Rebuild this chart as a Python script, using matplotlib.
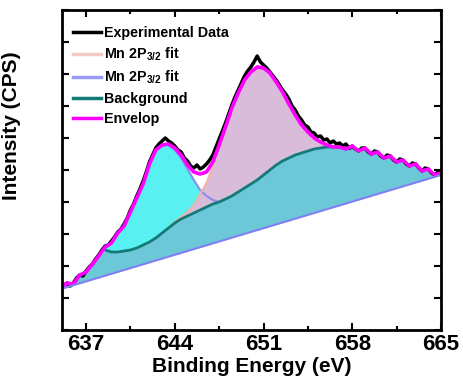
import numpy as np
import matplotlib
matplotlib.use("Agg")
import matplotlib.pyplot as plt
from matplotlib.ticker import MultipleLocator
from matplotlib.lines import Line2D

plt.rcParams['font.family'] = ['Liberation Sans', 'DejaVu Sans']
plt.rcParams['font.weight'] = 'bold'
plt.rcParams['mathtext.fontset'] = 'custom'
plt.rcParams['mathtext.bf'] = 'Liberation Sans:bold'
plt.rcParams['mathtext.rm'] = 'Liberation Sans:bold'
plt.rcParams['mathtext.default'] = 'bf'

# measured spectrum, 0.25 eV steps from 635 to 665 eV
exp_counts = [42, 45, 47, 44, 47, 52, 55, 54, 59, 63, 66, 71, 75, 80, 84, 85,
              89, 93, 98, 101, 106, 112, 120, 126, 134, 141, 149, 158, 168, 175,
              182, 186, 189, 192, 189, 187, 184, 180, 178, 172, 169, 164, 162, 165,
              161, 163, 166, 170, 175, 183, 191, 199, 207, 216, 225, 233, 240, 247,
              254, 259, 263, 268, 274, 268, 265, 262, 258, 254, 250, 245, 240, 236,
              231, 224, 220, 214, 210, 205, 203, 198, 197, 193, 194, 190, 191, 187,
              189, 186, 187, 184, 186, 182, 184, 181, 179, 182, 182, 178, 176, 179,
              178, 174, 172, 175, 174, 170, 168, 171, 170, 166, 164, 167, 166, 162,
              159, 162, 161, 157, 155, 158, 157]
exp_energy = np.linspace(635, 665, len(exp_counts))

# fitted curves, 0.5 eV steps from 635 to 665 eV
fit_energy = np.arange(635.0, 665.01, 0.5)
envelope = [42, 47, 46, 55, 58, 66, 74, 83, 87, 97, 104, 118, 132, 146, 166, 180,
            185, 186, 182, 175, 165, 158, 156, 158, 168, 185, 203, 222, 237, 250,
            258, 263, 262, 257, 248, 238, 226, 215, 205, 198, 192, 188, 185, 183,
            183, 181, 184, 179, 182, 176, 178, 172, 174, 168, 170, 164, 166, 159,
            161, 155, 157]
background = [42, 47, 46, 55, 58, 66, 74, 80, 78, 78, 79, 80, 82, 85, 88, 92,
              97, 102, 107, 111, 114, 117, 120, 123, 126, 128, 131, 134, 138, 142,
              146, 150, 155, 160, 165, 169, 172, 175, 177, 179, 181, 182, 183, 183,
              183, 181, 182, 179, 182, 176, 178, 172, 174, 168, 170, 164, 166, 159,
              161, 155, 157]

# Mn 2p3/2 component at lower energy (638.5 - 648 eV)
peak1_energy = np.arange(638.5, 648.01, 0.5)
peak1 = [82, 87, 97, 104, 118, 132, 146, 166, 180, 185, 185, 180, 172, 161, 150,
         140, 134, 130, 128, 131]
# Mn 2p3/2 component at higher energy (643.5 - 658 eV)
peak2_energy = np.arange(643.5, 658.01, 0.5)
peak2 = [102, 108, 113, 118, 125, 136, 147, 164, 185, 203, 222, 237, 250, 258,
         263, 262, 257, 248, 238, 226, 215, 205, 198, 192, 188, 185, 183, 183, 181, 182]

# linear baseline
base_energy = [635.0, 665.0]
base_counts = [41, 155]

bg = np.array(background)
base_on_grid = np.interp(fit_energy, base_energy, base_counts)
i1 = np.searchsorted(fit_energy, peak1_energy)
i2 = np.searchsorted(fit_energy, peak2_energy)
bg_line = (fit_energy >= 638.5) & (fit_energy <= 658.0)

fig = plt.figure(figsize=(4.64, 3.90), dpi=100)
ax = fig.add_axes([0.1336, 0.1538, 0.8168, 0.8206])

ax.fill_between(fit_energy, base_on_grid, bg, color='#6cc8d8', lw=0)
ax.fill_between(peak1_energy, bg[i1], peak1, color='#58f0f0', lw=0)
ax.fill_between(peak2_energy, bg[i2], peak2, color='#d9bcd9', lw=0)

ax.plot(peak1_energy, peak1, color='#8c8cf0', lw=1.5)
ax.plot(peak2_energy, peak2, color='#f0b4a8', lw=1.5)
ax.plot(fit_energy[bg_line], bg[bg_line], color='#137a78', lw=2)
ax.plot(exp_energy, exp_counts, color='black', lw=2.5)
ax.plot(fit_energy, envelope, color='#ff00ff', lw=2.6)
ax.plot(base_energy, base_counts, color='#8080f0', lw=1.5)

ax.set_xlim(635.1, 665.0)
ax.set_ylim(0, 320)
ax.set_xticks([637, 644, 651, 658, 665])
ax.xaxis.set_minor_locator(MultipleLocator(3.5))
ax.yaxis.set_major_locator(MultipleLocator(32))
ax.set_yticklabels([])
ax.tick_params(which='both', direction='in', top=True, right=True, width=1.5)
ax.tick_params(which='major', length=5, labelsize=16, pad=3)
ax.tick_params(which='minor', length=3)
for s in ax.spines.values():
    s.set_linewidth(2)

ax.set_xlabel('Binding Energy (eV)', fontsize=15, fontweight='bold', labelpad=1)
ax.set_ylabel('Intensity (CPS)', fontsize=15, fontweight='bold')
ax.yaxis.set_label_coords(-0.108, 0.64)

handles = [Line2D([], [], color='black', lw=2.5),
           Line2D([], [], color='#f5c8c8', lw=2.5),
           Line2D([], [], color='#9a9af5', lw=2.5),
           Line2D([], [], color='#137a78', lw=2.5),
           Line2D([], [], color='#ff00ff', lw=2.5)]
labels = ['Experimental Data', 'Mn 2P$_{3/2}$ fit', 'Mn 2P$_{3/2}$ fit',
          'Background', 'Envelop']
ax.legend(handles, labels, loc='upper left', bbox_to_anchor=(0.0, 0.985),
          frameon=False, fontsize=10.3, handlelength=1.9, handletextpad=0.25,
          labelspacing=0.4, borderaxespad=0.4)

fig.savefig('out.png', dpi=100)
